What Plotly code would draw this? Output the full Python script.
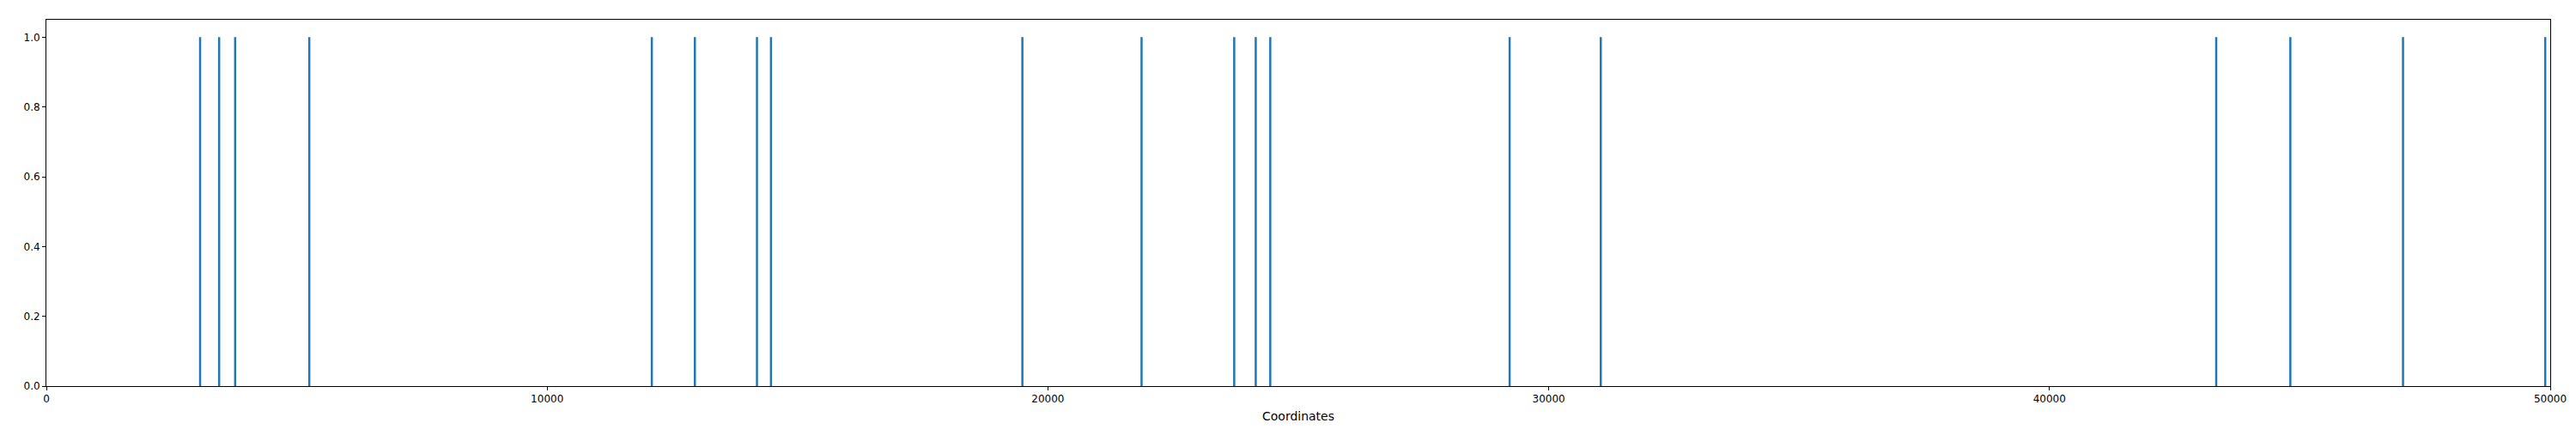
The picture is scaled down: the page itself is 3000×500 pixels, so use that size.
import plotly.graph_objects as go

positions = [3070, 3450, 3770, 5250, 12090, 12950, 14190, 14470, 19490, 21870,
             23720, 24150, 24440, 29220, 31040, 43330, 44810, 47060, 49900]
heights = [1.0] * len(positions)

xs, ys = [], []
for p, h in zip(positions, heights):
    xs += [p, p, None]
    ys += [0, h, None]

fig = go.Figure(go.Scatter(x=xs, y=ys, mode="lines",
                           line=dict(color="#1f77b4", width=2.5), hoverinfo="skip"))
fig.update_layout(
    width=3000, height=500, plot_bgcolor="white", paper_bgcolor="white",
    margin=dict(l=46, r=38, t=15, b=58), showlegend=False,
    font=dict(family="DejaVu Sans", size=12, color="black"),
)
axis = dict(showline=True, linecolor="black", linewidth=1, mirror=True, showgrid=False,
            zeroline=False, ticks="outside", ticklen=4, tickcolor="black")
fig.update_xaxes(range=[0, 50000], tickvals=[0, 10000, 20000, 30000, 40000, 50000],
                 ticktext=["0", "10000", "20000", "30000", "40000", "50000"],
                 title=dict(text="Coordinates", standoff=8), **axis)
fig.update_yaxes(range=[0, 1.05], tickvals=[0, 0.2, 0.4, 0.6, 0.8, 1.0],
                 ticktext=["0.0", "0.2", "0.4", "0.6", "0.8", "1.0"], **axis)
fig.write_html("out.html")
